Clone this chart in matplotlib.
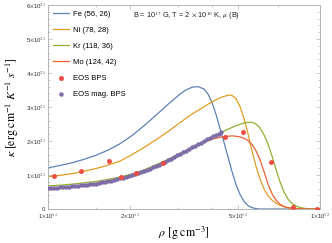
#!/usr/bin/env python3
"""Thermal conductivity vs density for a few nuclei, with BPS EOS points."""

import matplotlib
matplotlib.use('Agg')
import matplotlib.pyplot as plt
from matplotlib.ticker import FixedLocator, FixedFormatter

plt.rcParams['font.family'] = ['Liberation Sans', 'DejaVu Sans']
plt.rcParams['mathtext.fontset'] = 'stix'

# density in units of 1e11 g cm^-3, kappa in units of 1e21 erg cm^-1 K^-1 s^-1
rho_grid = [1.000, 1.107, 1.225, 1.356, 1.501, 1.662, 1.840, 2.037, 2.255, 2.496,
            2.763, 3.058, 3.216, 3.383, 3.560, 3.746, 3.875, 4.009, 4.147, 4.290,
            4.437, 4.590, 4.748, 4.911, 5.081, 5.257, 5.438, 5.623, 5.818, 6.018,
            6.227, 6.441, 6.661, 6.889, 7.128, 7.374, 7.627, 7.889, 8.302, 8.734,
            9.189, 10.00]
kap_fe = [1.21, 1.28, 1.36, 1.46, 1.58, 1.73, 1.92, 2.16, 2.45, 2.76,
          3.08, 3.38, 3.50, 3.58, 3.60, 3.53, 3.38, 3.13, 2.78, 2.37,
          1.96, 1.53, 1.10, 0.72, 0.43, 0.22, 0.10, 0.04, 0.01, 0.0,
          0.0, 0.0, 0.0, 0.0, 0.0, 0.0, 0.0, 0.0, 0.0, 0.0,
          0.0, 0.0]
kap_ni = [0.95, 0.99, 1.04, 1.11, 1.19, 1.29, 1.41, 1.60, 1.81, 2.04,
          2.28, 2.54, 2.67, 2.79, 2.90, 3.01, 3.08, 3.15, 3.21, 3.27,
          3.31, 3.35, 3.34, 3.25, 3.01, 2.66, 2.21, 1.71, 1.25, 0.88,
          0.59, 0.39, 0.26, 0.17, 0.11, 0.07, 0.04, 0.02, 0.01, 0.0,
          0.0, 0.0]
kap_kr = [0.68, 0.70, 0.73, 0.77, 0.81, 0.87, 0.94, 1.03, 1.15, 1.30,
          1.46, 1.63, 1.72, 1.80, 1.89, 1.98, 2.04, 2.10, 2.17, 2.23,
          2.29, 2.35, 2.40, 2.45, 2.49, 2.53, 2.55, 2.55, 2.50, 2.38,
          2.18, 1.91, 1.56, 1.17, 0.80, 0.50, 0.29, 0.16, 0.06, 0.02,
          0.0, 0.0]
kap_mo = [0.60, 0.62, 0.66, 0.70, 0.75, 0.81, 0.88, 0.97, 1.09, 1.24,
          1.41, 1.60, 1.70, 1.79, 1.88, 1.96, 2.01, 2.05, 2.08, 2.11,
          2.13, 2.14, 2.15, 2.14, 2.12, 2.08, 2.01, 1.90, 1.71, 1.45,
          1.10, 0.73, 0.45, 0.26, 0.14, 0.07, 0.04, 0.02, 0.01, 0.0,
          0.0, 0.0]

rho_bps = [1.05, 1.32, 1.67, 1.85, 2.10, 2.65, 4.48, 5.22, 6.61, 7.98, 9.73]
kap_bps = [0.97, 1.13, 1.42, 0.93, 1.07, 1.34, 2.11, 2.26, 1.38, 0.06, 0.0]

rho_mag = [1.000, 1.026, 1.052, 1.079, 1.107, 1.136, 1.165, 1.195, 1.225, 1.257,
           1.289, 1.322, 1.356, 1.391, 1.427, 1.464, 1.501, 1.540, 1.580, 1.620,
           1.662, 1.705, 1.749, 1.794, 1.840, 1.887, 1.936, 1.986, 2.037, 2.089,
           2.143, 2.198, 2.255, 2.313, 2.372, 2.433, 2.496, 2.560, 2.626, 2.694,
           2.763, 2.834, 2.907, 2.982, 3.058, 3.137, 3.218, 3.300, 3.385, 3.473,
           3.562, 3.654, 3.747, 3.844, 3.943, 4.044, 4.148, 4.255, 4.327]
kap_mag = [0.61, 0.615, 0.62, 0.63, 0.64, 0.645, 0.65, 0.66, 0.67, 0.68,
           0.69, 0.70, 0.71, 0.72, 0.73, 0.74, 0.75, 0.765, 0.78, 0.795,
           0.81, 0.83, 0.85, 0.875, 0.90, 0.925, 0.95, 0.975, 1.00, 1.03,
           1.06, 1.09, 1.12, 1.155, 1.19, 1.225, 1.26, 1.305, 1.35, 1.395,
           1.44, 1.485, 1.53, 1.575, 1.62, 1.665, 1.71, 1.76, 1.81, 1.855,
           1.90, 1.95, 2.00, 2.045, 2.09, 2.135, 2.18, 2.22, 2.26]

x_ticks = [1e11, 2e11, 5e11, 1e12]
x_ticklabels = [r'1$\times$10$^{11}$', r'2$\times$10$^{11}$', r'5$\times$10$^{11}$', r'1$\times$10$^{12}$']
x_minor = [1.5e11, 3e11, 4e11, 7e11]
y_ticks = [0, 1, 2, 3, 4, 5, 6]
y_ticklabels = ['0'] + [rf'{v}$\times$10$^{{21}}$' for v in y_ticks[1:]]

c_fe, c_ni, c_kr, c_mo = '#5E81B5', '#E19C24', '#8FB032', '#EB6235'
c_bps, c_mag = '#F04E45', '#7F6CA6'
rs, ks = 1e11, 1e21


def scaled(vals, f):
    return [v * f for v in vals]


fig = plt.figure(figsize=(3.32, 2.43), dpi=100)
ax = fig.add_axes([48 / 332, 1 - 209 / 243, 272 / 332, 204 / 243])

rho = scaled(rho_grid, rs)
ax.plot(rho, scaled(kap_fe, ks), color=c_fe, lw=0.9, label='Fe (56, 26)')
ax.plot(rho, scaled(kap_ni, ks), color=c_ni, lw=0.9, label='Ni (78, 28)')
ax.plot(rho, scaled(kap_kr, ks), color=c_kr, lw=0.9, label='Kr (118, 36)')
ax.plot(rho, scaled(kap_mo, ks), color=c_mo, lw=0.9, label='Mo (124, 42)')
ax.plot(scaled(rho_bps, rs), scaled(kap_bps, ks), 'o', color=c_bps, ms=3.6, mew=0, label='EOS BPS', zorder=4)
ax.plot(scaled(rho_mag, rs), scaled(kap_mag, ks), 'o', color=c_mag, ms=3.2, mew=0, label='EOS mag. BPS', zorder=3)

ax.set_xscale('log')
ax.set_xlim(1e11, 1e12)
ax.set_ylim(0, 6e21)

ax.xaxis.set_major_locator(FixedLocator(x_ticks))
ax.xaxis.set_major_formatter(FixedFormatter(x_ticklabels))
ax.xaxis.set_minor_locator(FixedLocator(x_minor))
ax.xaxis.set_minor_formatter(FixedFormatter([''] * len(x_minor)))
ax.yaxis.set_major_locator(FixedLocator(scaled(y_ticks, ks)))
ax.yaxis.set_major_formatter(FixedFormatter(y_ticklabels))
ax.yaxis.set_minor_locator(FixedLocator([i * 0.2 * ks for i in range(31)]))

for sp in ax.spines.values():
    sp.set_color('#b4b4b4')
    sp.set_linewidth(0.7)
ax.tick_params(which='both', direction='in', top=True, right=True, color='#b4b4b4',
               labelsize=4.3, labelcolor='#333333', width=0.5, pad=2)
ax.tick_params(which='major', length=3)
ax.tick_params(which='minor', length=1.6)

ax.set_xlabel(r'$\rho\ [\mathrm{g\ cm}^{-3}]$', fontsize=8.5, labelpad=3)
ax.set_ylabel(r'$\kappa\ [\mathrm{erg\ cm}^{-1}\ K^{-1}\ s^{-1}]$', fontsize=8.5, labelpad=3)

ax.text(0.3125, 0.946, r'B = 10$^{17}$ G, T = 2 $\times$ 10$^{10}$ K, $\mu$ (B)',
        transform=ax.transAxes, fontsize=5.3, va='center', ha='left', color='#222222')

ax.legend(loc='upper left', frameon=False, fontsize=5.5, handlelength=2.0, handletextpad=0.6,
          labelspacing=1.15, borderaxespad=0.3, bbox_to_anchor=(0.0, 1.0))

fig.savefig('out.png', dpi=100)
